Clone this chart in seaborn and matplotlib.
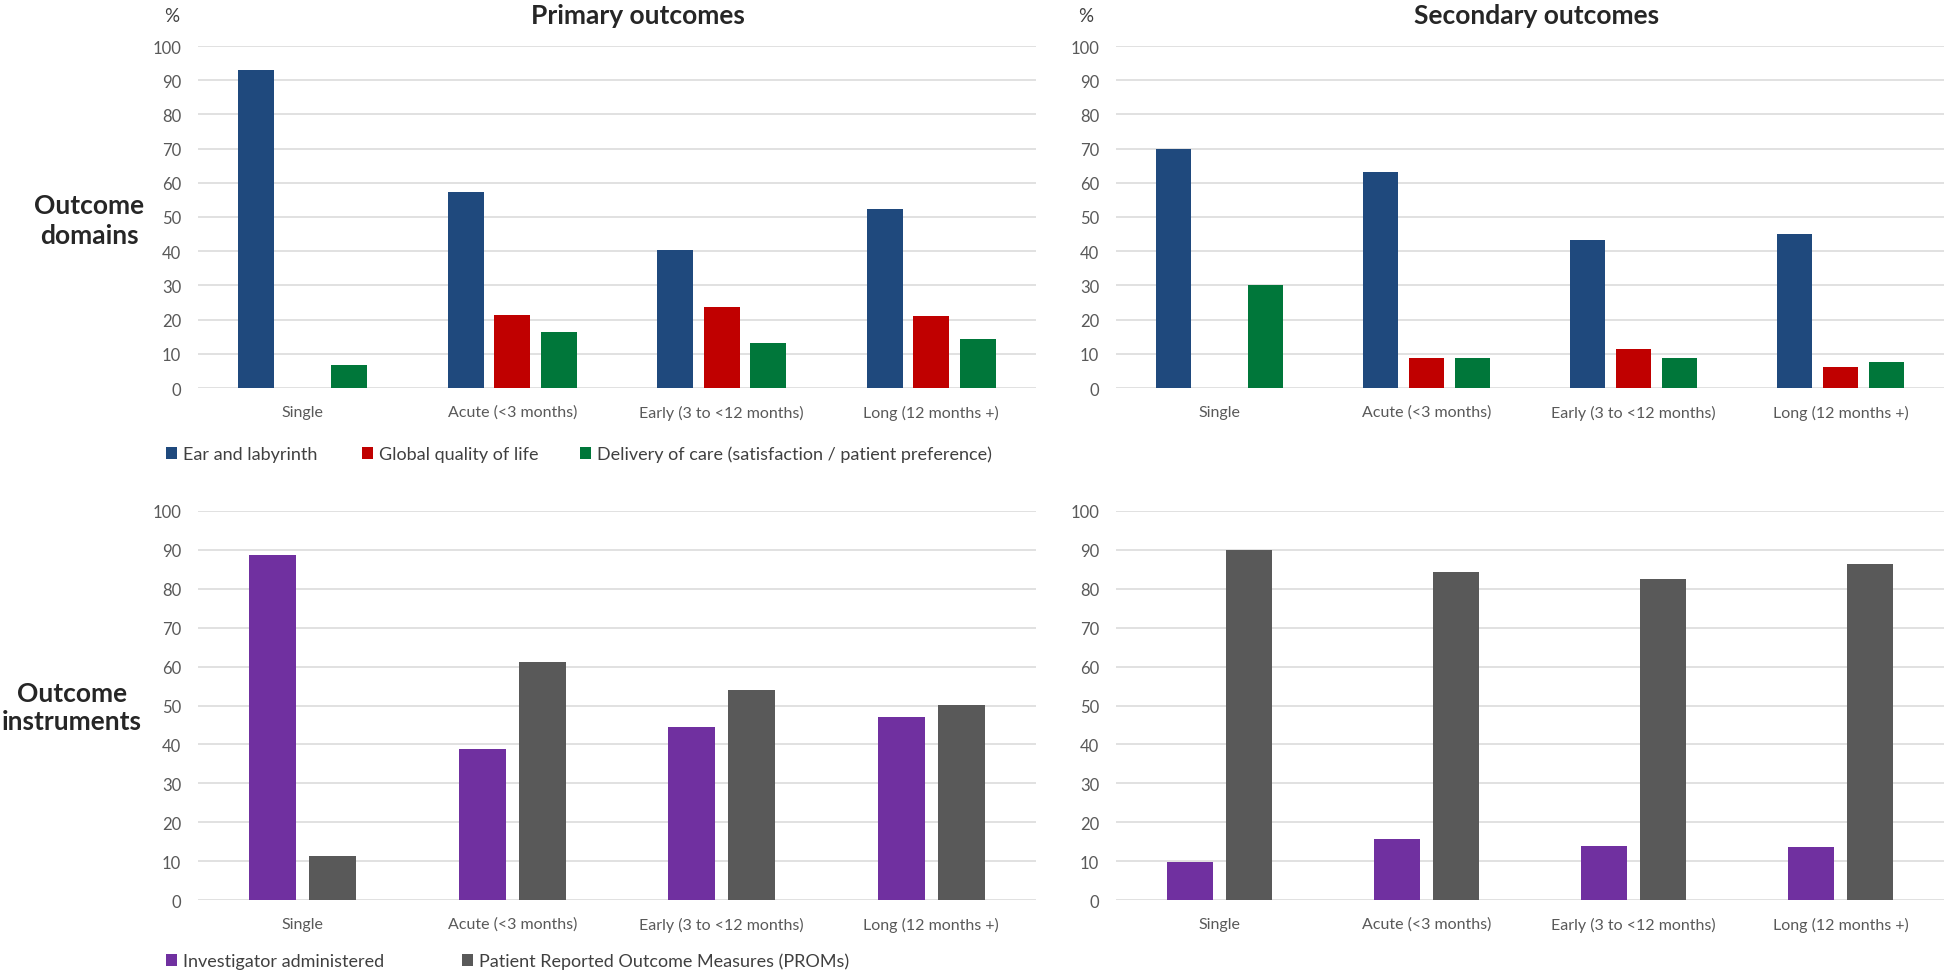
import matplotlib.pyplot as plt
import seaborn as sns
import pandas as pd
from matplotlib.patches import Patch

periods = ["Single", "Acute (<3 months)", "Early (3 to <12 months)", "Long (12 months +)"]

domain_names = ["Ear and labyrinth", "Global quality of life",
                "Delivery of care (satisfaction / patient preference)"]
instrument_names = ["Investigator administered", "Patient Reported Outcome Measures (PROMs)"]

# outcome domains, % of studies
prim_ear = [93.0, 57.3, 40.4, 52.2]
prim_qol = [0.0, 21.3, 23.6, 21.0]
prim_care = [6.7, 16.3, 13.3, 14.2]
sec_ear = [70.0, 63.3, 43.2, 45.1]
sec_qol = [0.0, 8.7, 11.3, 6.1]
sec_care = [30.0, 8.7, 8.7, 7.5]

# outcome instruments, % of studies
prim_invest = [88.6, 38.9, 44.6, 47.1]
prim_proms = [11.4, 61.1, 53.9, 50.2]
sec_invest = [9.8, 15.8, 13.9, 13.6]
sec_proms = [90.1, 84.3, 82.5, 86.3]

domain_colors = ["#1F497D", "#C00000", "#00773A"]
instrument_colors = ["#7030A0", "#595959"]

sns.set_style("white")
plt.rcParams['font.family'] = ['Lato', 'DejaVu Sans']

W, H = 1946, 978


def long_df(series, names):
    rows = []
    for name, vals in zip(names, series):
        for p, v in zip(periods, vals):
            rows.append({"period": p, "group": name, "pct": v})
    return pd.DataFrame(rows)


def draw(ax, df, names, colors, width, gap):
    sns.barplot(data=df, x="period", y="pct", hue="group", hue_order=names, order=periods,
                palette=colors, width=width, gap=gap, linewidth=0, saturation=1,
                errorbar=None, legend=False, ax=ax)
    ax.set_ylim(0, 100)
    ax.set_yticks(range(0, 101, 10))
    ax.grid(axis="y", color="#D9D9D9", lw=1.1)
    ax.set_axisbelow(True)
    sns.despine(ax=ax, left=True, bottom=True)
    ax.tick_params(axis="y", length=0, labelsize=12, colors="#595959", pad=12)
    ax.tick_params(axis="x", length=0, labelsize=11.5, colors="#595959", pad=12)
    ax.set_xlabel("")
    ax.set_ylabel("")


def box(x0, y_top, x1, y_bot):
    return [x0 / W, 1 - y_bot / H, (x1 - x0) / W, (y_bot - y_top) / H]


def legend_row(names, colors, xs, y):
    # one legend per entry so each sits where Excel put it
    for name, c, x in zip(names, colors, xs):
        fig.legend([Patch(color=c, lw=0)], [name], loc="center left", bbox_to_anchor=(x / W, 1 - y / H),
                   frameon=False, fontsize=13, handlelength=0.6, handleheight=0.65,
                   handletextpad=0.35, borderpad=0, borderaxespad=0, labelcolor="#404040")


fig = plt.figure(figsize=(W / 100, H / 100), dpi=100)

ax_tl = fig.add_axes(box(198, 47, 1036, 389))
ax_tr = fig.add_axes(box(1116, 47, 1944, 389))
ax_bl = fig.add_axes(box(198, 512, 1036, 901))
ax_br = fig.add_axes(box(1116, 512, 1944, 901))

draw(ax_tl, long_df([prim_ear, prim_qol, prim_care], domain_names), domain_names, domain_colors, 0.666, 0.225)
draw(ax_tr, long_df([sec_ear, sec_qol, sec_care], domain_names), domain_names, domain_colors, 0.666, 0.225)
draw(ax_bl, long_df([prim_invest, prim_proms], instrument_names), instrument_names, instrument_colors, 0.573, 0.216)
draw(ax_br, long_df([sec_invest, sec_proms], instrument_names), instrument_names, instrument_colors, 0.573, 0.216)

# titles and row labels
fig.text(638 / W, 1 - 16 / H, "Primary outcomes", ha="center", va="center", fontsize=19, fontweight="bold")
fig.text(1537 / W, 1 - 16 / H, "Secondary outcomes", ha="center", va="center", fontsize=19, fontweight="bold")
fig.text(172 / W, 1 - 17 / H, "%", ha="center", va="center", fontsize=13.5, color="#404040")
fig.text(1086 / W, 1 - 17 / H, "%", ha="center", va="center", fontsize=13.5, color="#404040")
fig.text(89 / W, 1 - 221 / H, "Outcome\ndomains", ha="center", va="center", fontsize=19,
         fontweight="bold", linespacing=1.25)
fig.text(72 / W, 1 - 708 / H, "Outcome\ninstruments", ha="center", va="center", fontsize=19,
         fontweight="bold", linespacing=1.25)

# legends
legend_row(domain_names, domain_colors, [166, 362, 580], 455)
legend_row(instrument_names, instrument_colors, [166, 462], 962)

fig.savefig("out.png", dpi=100)
